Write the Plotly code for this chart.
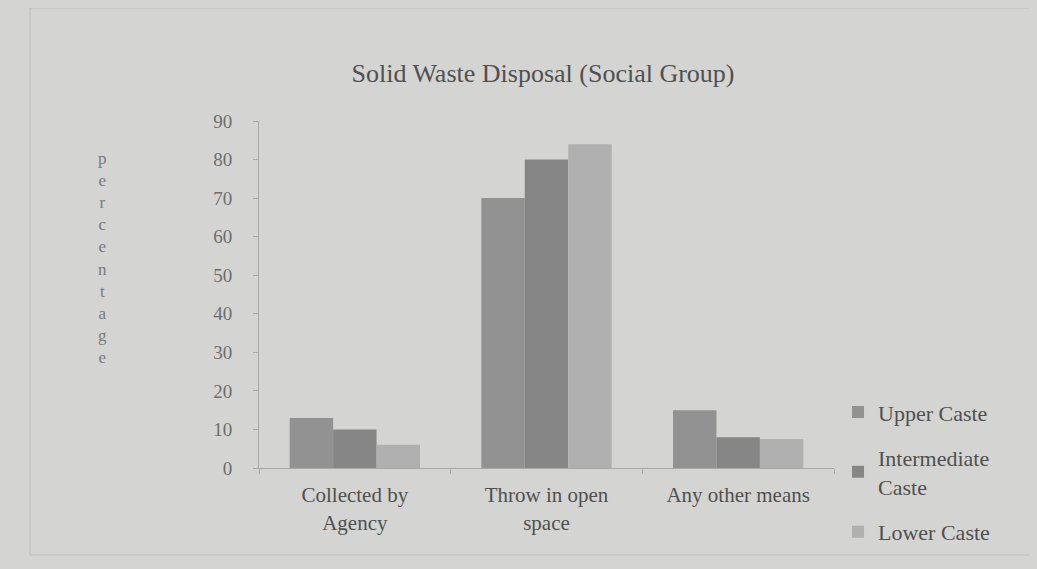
"""Solid waste disposal by social group - grouped bar chart."""

import plotly.graph_objects as go

# Data (percent of households)
CATEGORIES = ["Collected by<br>Agency", "Throw in open<br>space", "Any other means"]
UPPER_CASTE = [13, 70, 15]
INTERMEDIATE_CASTE = [10, 80, 8]
LOWER_CASTE = [6, 84, 7.5]
Y_TICKS = [0, 10, 20, 30, 40, 50, 60, 70, 80, 90]

COLORS = {
    "bg": "#d4d4d2",
    "upper": "#929292",
    "intermediate": "#868686",
    "lower": "#b0b0b0",
    "axis": "#a8a8a8",
    "text": "#505050",
    "text_muted": "#6e6e6e",
}
FONT = "Liberation Serif, Times New Roman, serif"

fig = go.Figure()

series = [
    ("Upper Caste", UPPER_CASTE, COLORS["upper"]),
    ("Intermediate<br>Caste", INTERMEDIATE_CASTE, COLORS["intermediate"]),
    ("Lower Caste", LOWER_CASTE, COLORS["lower"]),
]
for name, values, color in series:
    fig.add_trace(go.Bar(
        x=CATEGORIES,
        y=values,
        name=name,
        legendgroup=name,
        marker=dict(color=color, line=dict(width=0)),
    ))

# the page body adds an 8px offset, margins are set to compensate
fig.update_layout(
    width=1037,
    height=569,
    paper_bgcolor=COLORS["bg"],
    plot_bgcolor=COLORS["bg"],
    font=dict(family=FONT, color=COLORS["text"], size=21),
    margin=dict(l=251, r=211, t=113, b=109),
    barmode="group",
    bargap=0.32,
    bargroupgap=0,
    title=dict(
        text="Solid Waste Disposal (Social Group)",
        x=535 / 1037,
        xanchor="center",
        y=1 - 65 / 569,
        yanchor="middle",
        font=dict(size=26, color=COLORS["text"]),
    ),
    legend=dict(
        x=1.007,
        xanchor="left",
        y=-0.012,
        yanchor="middle",
        traceorder="grouped",
        tracegroupgap=14,
        itemwidth=30,
        font=dict(size=22, color=COLORS["text"]),
        bgcolor="rgba(0,0,0,0)",
    ),
    showlegend=True,
)

fig.update_xaxes(
    showline=True,
    linecolor=COLORS["axis"],
    linewidth=1,
    ticks="outside",
    tickson="boundaries",
    ticklen=5,
    tickcolor=COLORS["axis"],
    showgrid=False,
    ticklabelstandoff=8,
    tickfont=dict(size=21, color=COLORS["text"]),
)
fig.update_yaxes(
    range=[0, 90],
    tickvals=Y_TICKS,
    showline=True,
    linecolor=COLORS["axis"],
    linewidth=1,
    ticks="outside",
    ticklen=5,
    tickcolor=COLORS["axis"],
    showgrid=False,
    zeroline=False,
    ticklabelstandoff=17,
    tickfont=dict(size=19, color=COLORS["text_muted"]),
)

# stacked vertical axis title
fig.add_annotation(
    text="<br>".join("percentage"),
    xref="paper", yref="paper",
    x=-0.273, y=0.605,
    xanchor="center", yanchor="middle",
    showarrow=False,
    font=dict(size=17, color="#7a7a7a"),
)

# faint outer chart border
fig.add_shape(
    type="rect", xref="paper", yref="paper",
    x0=(22 - 251) / 575, x1=1 + (1022 - 826) / 575,
    y0=(460 - 547) / 347, y1=1 + 113 / 347,
    line=dict(color="#bdbdbd", width=1),
)

fig.write_html(
    "out.html",
    post_script=f"document.body.style.backgroundColor='{COLORS['bg']}';",
)
